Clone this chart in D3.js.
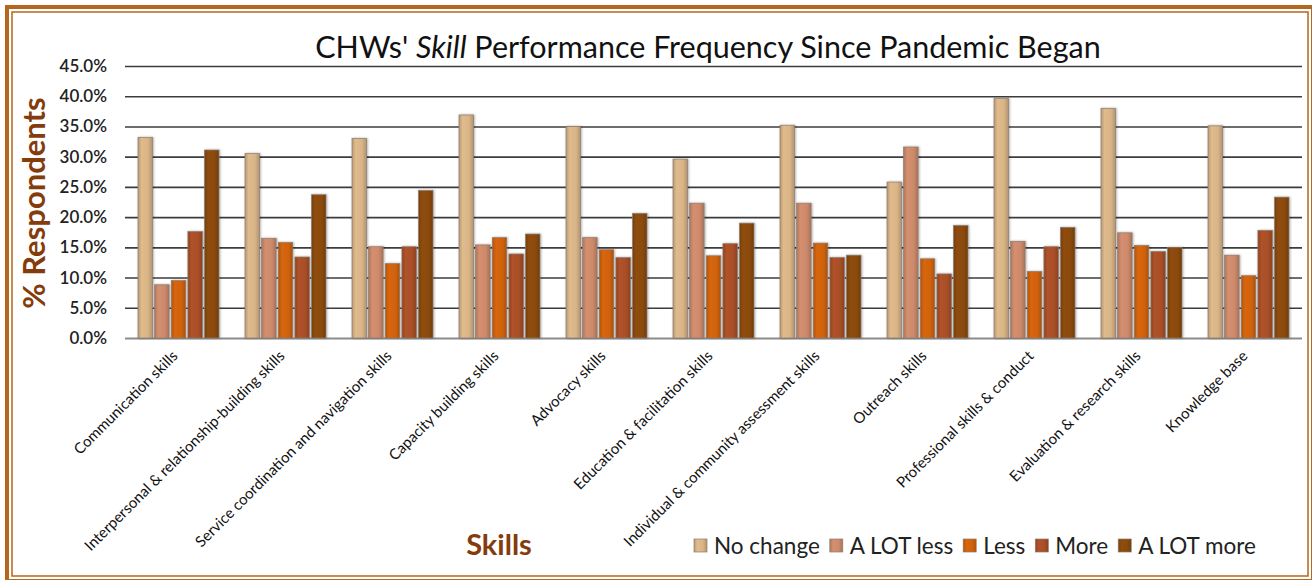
<!DOCTYPE html>
<html>
<head>
<meta charset="utf-8">
<script src="https://cdn.jsdelivr.net/npm/d3@7"></script>
<style>
  body { margin: 0; background: #fff; }
  svg { display: block; font-family: Lato, "Open Sans", sans-serif; }
</style>
</head>
<body>
<svg width="1312" height="580"></svg>
<script>
// skills shown along the x axis
var categories = [
    "Communication skills",
    "Interpersonal & relationship-building skills",
    "Service coordination and navigation skills",
    "Capacity building skills",
    "Advocacy skills",
    "Education & facilitation skills",
    "Individual & community assessment skills",
    "Outreach skills",
    "Professional skills & conduct",
    "Evaluation & research skills",
    "Knowledge base"
];

var seriesNames = ["No change", "A LOT less", "Less", "More", "A LOT more"];

// % respondents
var noChange  = [33.2, 30.5, 33.0, 36.9, 35.0, 29.6, 35.2, 25.8, 39.6, 38.0, 35.1];
var aLotLess  = [ 8.8, 16.5, 15.1, 15.4, 16.6, 22.3, 22.3, 31.6, 16.0, 17.4, 13.7];
var less      = [ 9.5, 15.8, 12.3, 16.6, 14.6, 13.6, 15.7, 13.1, 11.0, 15.3, 10.3];
var more      = [17.6, 13.4, 15.1, 13.9, 13.3, 15.6, 13.3, 10.6, 15.1, 14.3, 17.8];
var aLotMore  = [31.1, 23.7, 24.4, 17.2, 20.6, 19.0, 13.7, 18.6, 18.3, 15.0, 23.3];

var yTicks = [0, 5, 10, 15, 20, 25, 30, 35, 40, 45];

var skillsChart = {

    colors : ["#d8b487", "#cd8a6b", "#d0620c", "#a94f28", "#8a4a0c"],

    show : function() {
        var values = [noChange, aLotLess, less, more, aLotMore];
        var rows = categories.map(function(c, i) {
            return {
                name: c,
                bars: seriesNames.map(function(s, j) { return {key: s, idx: j, value: values[j][i]}; })
            };
        });
        skillsChart.dataViz(rows);
    },

    dataViz : function(rows) {
        var svg = d3.select("svg");
        var brown = "#843c0c";

        // double frame
        svg.append("rect")
            .attr("x", 7).attr("y", 7)
            .attr("width", 1306).attr("height", 574)
            .style("fill", "none")
            .style("stroke", "#b5651d")
            .style("stroke-width", "4px");
        svg.append("rect")
            .attr("x", 12).attr("y", 12)
            .attr("width", 1296).attr("height", 564)
            .style("fill", "none")
            .style("stroke", "#b5651d")
            .style("stroke-width", "1.5px");

        // gradients for the bars
        var defs = svg.append("defs");
        skillsChart.colors.forEach(function(c, j) {
            var g = defs.append("linearGradient")
                .attr("id", "grad" + j)
                .attr("x1", "0").attr("x2", "1").attr("y1", "0").attr("y2", "0");
            g.append("stop").attr("offset", "0%").attr("stop-color", d3.color(c).darker(0.45));
            g.append("stop").attr("offset", "25%").attr("stop-color", d3.color(c).brighter(0.1));
            g.append("stop").attr("offset", "70%").attr("stop-color", c);
            g.append("stop").attr("offset", "100%").attr("stop-color", d3.color(c).darker(0.55));
        });
        var sh = defs.append("filter").attr("id", "shadow")
            .attr("x", "-30%").attr("y", "-10%").attr("width", "160%").attr("height", "120%");
        sh.append("feDropShadow")
            .attr("dx", 0.8).attr("dy", 0).attr("stdDeviation", 0.8)
            .attr("flood-color", "#000").attr("flood-opacity", 0.35);

        var x0 = d3.scaleBand()
            .domain(categories)
            .range([125, 1302]);

        var x1 = d3.scaleBand()
            .domain(seriesNames)
            .range([13, 94])
            .paddingInner(0.13);

        var y = d3.scaleLinear()
            .domain([0, 45])
            .range([338, 66]);

        // title
        var title = svg.append("text")
            .attr("x", 708)
            .attr("y", 58)
            .style("text-anchor", "middle")
            .style("font-size", "30.5px")
            .style("fill", "#111");
        title.append("tspan").text("CHWs' ");
        title.append("tspan").style("font-style", "italic").text("Skill");
        title.append("tspan").text(" Performance Frequency Since Pandemic Began");

        // grid lines + y labels
        var yAxis = d3.axisLeft(y)
            .tickValues(yTicks)
            .tickSize(-(1302 - 125))
            .tickPadding(18)
            .tickFormat(function(d) { return d.toFixed(1) + "%"; });

        var yG = svg.append("g")
            .attr("transform", "translate(125,0)")
            .call(yAxis);
        yG.select(".domain").remove();
        yG.selectAll(".tick line")
            .style("stroke", "#3c3c3c")
            .style("stroke-width", "1.6px");
        yG.selectAll(".tick")
            .filter(function(d) { return d === 0; })
            .select("line")
            .style("stroke", "#8c8c8c")
            .style("stroke-width", "2px");
        yG.selectAll(".tick text")
            .style("font-family", "Lato, sans-serif")
            .style("font-size", "17px")
            .style("font-weight", "600")
            .style("fill", "#222");

        // bars
        var groups = svg.append("g")
            .selectAll("g")
            .data(rows)
            .enter()
            .append("g")
            .attr("transform", function(d) { return "translate(" + x0(d.name) + ",0)"; });

        groups.selectAll("rect")
            .data(function(d) { return d.bars; })
            .enter()
            .append("rect")
            .attr("x", function(d) { return x1(d.key); })
            .attr("y", function(d) { return y(d.value); })
            .attr("width", x1.bandwidth())
            .attr("height", function(d) { return y(0) - y(d.value); })
            .attr("filter", "url(#shadow)")
            .style("fill", function(d) { return "url(#grad" + d.idx + ")"; })
            .style("stroke", "#8d7b6e")
            .style("stroke-width", "0.7px");

        // x labels
        svg.append("g")
            .selectAll("text")
            .data(categories)
            .enter()
            .append("text")
            .attr("transform", function(d) {
                return "translate(" + (x0(d) + x0.bandwidth() / 2) + ",357) rotate(-45)";
            })
            .style("text-anchor", "end")
            .style("font-size", "15px")
            .style("fill", "#111")
            .text(function(d) { return d; });

        // axis titles
        svg.append("text")
            .attr("transform", "translate(45,203) rotate(-90)")
            .style("text-anchor", "middle")
            .style("font-size", "31px")
            .style("font-weight", "bold")
            .style("fill", brown)
            .text("% Respondents");

        svg.append("text")
            .attr("x", 499)
            .attr("y", 555)
            .style("text-anchor", "middle")
            .style("font-size", "29px")
            .style("font-weight", "bold")
            .style("fill", brown)
            .text("Skills");

        // legend
        var legend = svg.append("g");
        var lx = 694;
        seriesNames.forEach(function(s, j) {
            legend.append("rect")
                .attr("x", lx).attr("y", 539)
                .attr("width", 13).attr("height", 13)
                .style("fill", "url(#grad" + j + ")")
                .style("stroke", "#8d7b6e")
                .style("stroke-width", "0.7px");
            var t = legend.append("text")
                .attr("x", lx + 20)
                .attr("y", 554)
                .style("font-size", "22.5px")
                .style("fill", "#222")
                .text(s);
            lx = lx + 20 + t.node().getComputedTextLength() + 10;
        });
    }
};

skillsChart.show();
</script>
</body>
</html>
